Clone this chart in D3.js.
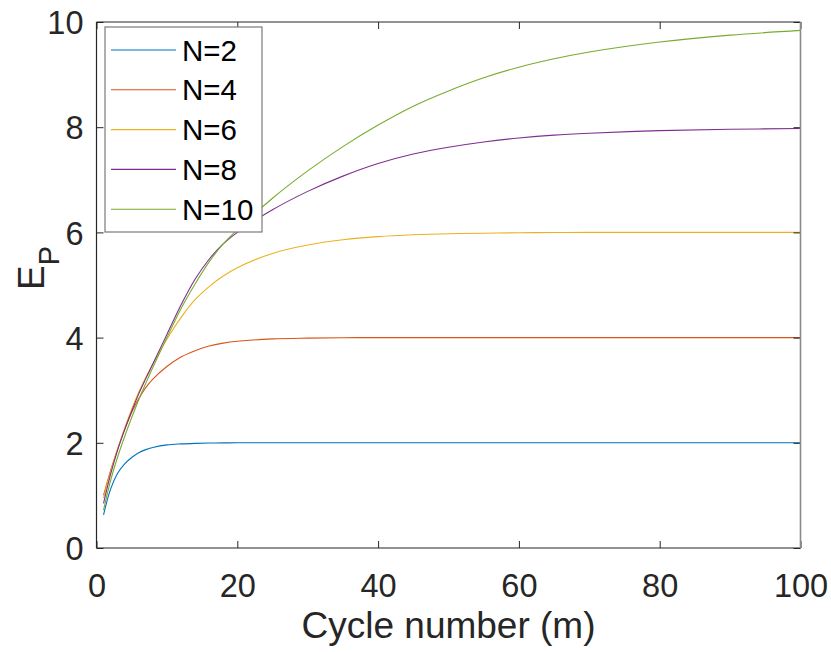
<!DOCTYPE html>
<html>
<head>
<meta charset="utf-8">
<script src="https://cdn.jsdelivr.net/npm/d3@7"></script>
<style>
	body { margin: 0; background: #fff; }
	svg { display: block; font-family: "Liberation Sans", Arial, sans-serif; }
</style>
</head>
<body>
<svg width="831" height="652"></svg>
<script>
let cycles = [1, 2, 3, 4, 5, 6, 7, 8, 10, 12, 14, 16, 18, 20, 25, 30, 35, 40, 45, 50, 55, 60, 65, 70, 80, 90, 100];

let n2  = [0.63, 1.12, 1.42, 1.60, 1.72, 1.81, 1.87, 1.91, 1.96, 1.98, 1.99, 1.995, 1.998, 2.0,
	2.0, 2.0, 2.0, 2.0, 2.0, 2.0, 2.0, 2.0, 2.0, 2.0, 2.0, 2.0, 2.0];
let n4  = [1.00, 1.47, 1.88, 2.25, 2.58, 2.84, 3.05, 3.21, 3.45, 3.63, 3.75, 3.84, 3.895, 3.93,
	3.975, 3.99, 3.997, 4.0, 4.0, 4.0, 4.0, 4.0, 4.0, 4.0, 4.0, 4.0, 4.0];
let n6  = [0.95, 1.45, 1.88, 2.28, 2.64, 2.96, 3.24, 3.50, 3.97, 4.38, 4.72, 4.97, 5.17, 5.33,
	5.60, 5.76, 5.86, 5.92, 5.955, 5.975, 5.985, 5.993, 5.997, 6.0, 6.0, 6.0, 6.0];
let n8  = [0.85, 1.40, 1.86, 2.25, 2.60, 2.93, 3.22, 3.50, 4.06, 4.62, 5.11, 5.49, 5.78, 6.00,
	6.43, 6.78, 7.07, 7.31, 7.49, 7.62, 7.72, 7.795, 7.85, 7.885, 7.935, 7.96, 7.975];
let n10 = [0.72, 1.28, 1.73, 2.12, 2.48, 2.82, 3.13, 3.43, 4.00, 4.55, 5.02, 5.44, 5.78, 6.05,
	6.65, 7.17, 7.63, 8.04, 8.40, 8.69, 8.94, 9.14, 9.30, 9.43, 9.62, 9.75, 9.84];

let names = ["N=2", "N=4", "N=6", "N=8", "N=10"];
let colors = ["#0072BD", "#D95319", "#EDB120", "#7E2F8E", "#77AC30"];
let xTicks = [0, 20, 40, 60, 80, 100];
let yTicks = [0, 2, 4, 6, 8, 10];

let pLeft = 96.5, pRight = 800.5, pTop = 22, pBottom = 548;
let axisColor = "#262626";

let svg = d3.select("svg");

let x = d3.scaleLinear().domain([0, 100]).range([pLeft, pRight]);
let y = d3.scaleLinear().domain([0, 10]).range([pBottom, pTop]);

// curves
let series = [n2, n4, n6, n8, n10];
let line = d3.line()
	.x(function(d) { return x(d[0]); })
	.y(function(d) { return y(d[1]); })
	.curve(d3.curveCatmullRom.alpha(0.5));

svg.append("g").selectAll("path")
	.data(series)
	.enter().append("path")
	.attr("fill", "none")
	.attr("stroke", function(d, i) { return colors[i]; })
	.attr("stroke-width", 1.1)
	.attr("d", function(d) { return line(cycles.map(function(m, j) { return [m, d[j]]; })); });

// axes, ticks inward like matlab
let tickLen = 7;
let gx = svg.append("g").attr("transform", "translate(0," + pBottom + ")")
	.call(d3.axisBottom(x).tickValues(xTicks).tickSizeInner(-tickLen).tickSizeOuter(0));
let gy = svg.append("g").attr("transform", "translate(" + pLeft + ",0)")
	.call(d3.axisLeft(y).tickValues(yTicks).tickSizeInner(-tickLen).tickSizeOuter(0));
let gt = svg.append("g").attr("transform", "translate(0," + pTop + ")")
	.call(d3.axisTop(x).tickValues(xTicks).tickSizeInner(-tickLen).tickSizeOuter(0).tickFormat(""));
let gr = svg.append("g").attr("transform", "translate(" + pRight + ",0)")
	.call(d3.axisRight(y).tickValues(yTicks).tickSizeInner(-tickLen).tickSizeOuter(0).tickFormat(""));

[gx, gy, gt, gr].forEach(function(g) {
	g.selectAll(".domain").remove();
	g.selectAll(".tick line").attr("stroke", axisColor).attr("stroke-width", 1);
	g.selectAll(".tick text").attr("fill", axisColor).style("font-size", "32.5px")
		.style("font-family", "'Liberation Sans', Arial, sans-serif");
});
gx.selectAll(".tick text").attr("y", 26).attr("dy", "0.71em");
gy.selectAll(".tick text").attr("x", -13).attr("dy", "0.36em");

// box
svg.append("line").attr("x1", pLeft).attr("x2", pRight).attr("y1", pBottom).attr("y2", pBottom)
	.attr("stroke", axisColor).attr("stroke-width", 1.2);
svg.append("line").attr("x1", pLeft).attr("x2", pRight).attr("y1", pTop).attr("y2", pTop)
	.attr("stroke", axisColor).attr("stroke-width", 1.2);
svg.append("line").attr("x1", pLeft).attr("x2", pLeft).attr("y1", pTop).attr("y2", pBottom)
	.attr("stroke", axisColor).attr("stroke-width", 1.2);
svg.append("line").attr("x1", pRight).attr("x2", pRight).attr("y1", pTop).attr("y2", pBottom)
	.attr("stroke", "#8a8a8a").attr("stroke-width", 1.6);

// axis labels
svg.append("text")
	.attr("x", (pLeft + pRight) / 2).attr("y", 638)
	.attr("text-anchor", "middle")
	.attr("fill", axisColor)
	.style("font-size", "37px")
	.text("Cycle number (m)");

let ylab = svg.append("text")
	.attr("transform", "translate(44,268) rotate(-90)")
	.attr("text-anchor", "middle")
	.attr("fill", axisColor);
ylab.append("tspan").style("font-size", "37px").text("E");
ylab.append("tspan").style("font-size", "29px").attr("dy", 15).text("P");

// legend
let legend = svg.append("g");
legend.append("rect")
	.attr("x", 105).attr("y", 27).attr("width", 157).attr("height", 205)
	.attr("fill", "#fff").attr("stroke", "#7a7a7a").attr("stroke-width", 1.2);

let rows = legend.selectAll(".row")
	.data(names)
	.enter().append("g")
	.attr("class", "row")
	.attr("transform", function(d, i) { return "translate(0," + (50 + i * 39.8) + ")"; });

rows.append("line")
	.attr("x1", 111).attr("x2", 176)
	.attr("stroke", function(d, i) { return colors[i]; })
	.attr("stroke-width", 1.1);

rows.append("text")
	.attr("x", 182).attr("dy", "0.36em")
	.attr("fill", "#000")
	.style("font-size", "29.5px")
	.text(function(d) { return d; });
</script>
</body>
</html>
